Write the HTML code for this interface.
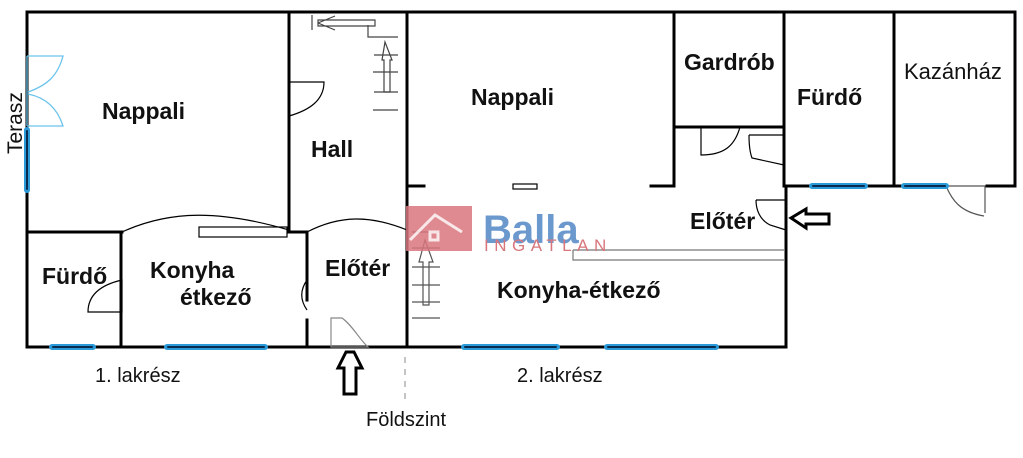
<!DOCTYPE html>
<html><head><meta charset="utf-8"><style>
html,body{margin:0;padding:0;background:#fff;width:1023px;height:458px;overflow:hidden}
svg{display:block}
.b{font-family:"Liberation Sans",sans-serif;font-weight:bold;font-size:23px;fill:#111}
.n{font-family:"Liberation Sans",sans-serif;font-size:20px;fill:#111}
</style></head><body>
<svg width="1023" height="458" viewBox="0 0 1023 458" xmlns="http://www.w3.org/2000/svg">
<g stroke="#000" stroke-width="3" fill="none" stroke-linecap="square">
<path d="M27 12 H1015 M27 12 V347 H786 M407 12 V347"/>
<path d="M1015 12 V186 M786 186 H946 M987 186 H1015 M786 186 V347"/>
<path d="M289 12 V232 M27 232 H122 M289 232 H307 M121 232 V347 M307 232 V300 M307 320 V347"/>
<path d="M674 12 V186 M674 127 H784 M784 12 V186 M894 12 V186"/>
<path d="M408 186 H424 M651 186 H674"/>
</g>
<g stroke="#000" stroke-width="1.2" fill="none">
<path d="M122 232 C170 210 220 210 289 230"/>
<rect x="199" y="227" width="88" height="10"/>
<path d="M307 232 C340 215 370 215 407 230"/>
<path d="M307 280 C300 290 300 300 307 310"/>
<rect x="513" y="184" width="24" height="5"/>
<path d="M289 82 H324 C324 100 310 110 289 116 V82"/>
<path d="M122 280 C100 285 88 295 88 312 H122 Z"/>
<path d="M331 318 H342 C352 325 360 340 368 347 H331 Z" stroke="#888"/>
<path d="M701 127 H740 C735 145 725 155 701 155 V127"/>
<path d="M749 135 H784 V165 L752 158 C749 150 749 140 749 135"/>
<path d="M756 200 H786 V230 L770 225 C760 220 756 210 756 200"/>
<path d="M946 186 H985 V213 M946 186 C952 200 960 212 984 216" stroke="#555"/>
<path d="M312 15 V30 M318 20 H375 V26 H318 Z M318 23 L335 16 M318 23 L335 30 M368 25 V37 H398 M374 55 H398 M373 72 H398 M374 92 H398 M373 110 H398" stroke="#444"/>
<path d="M385 42 L382 60 H384 V92 H390 V60 H392 Z" stroke="#444"/>
<path d="M573 250 H784 M573 250 V260 H784" stroke="#777"/>
<path d="M412 232 H440 M412 248 H440 M412 267 H440 M412 285 H440 M412 302 H440 M412 318 H440" stroke="#555"/>
<path d="M425 240 L419 262 H423 V305 H429 V262 H433 Z" stroke="#555"/>
</g>
<g stroke="#2a9bd8" stroke-width="6" stroke-linecap="round">
<path d="M27 130 V190 M52 347 H93 M167 347 H265 M464 347 H557 M607 347 H716 M812 186 H865 M904 186 H946"/>
</g>
<g stroke="#0a2a50" stroke-width="2" stroke-linecap="round">
<path d="M27 131 V189 M53 347 H92 M168 347 H264 M465 347 H556 M608 347 H715 M813 186 H864 M905 186 H945"/>
</g>
<g stroke="#6cc4ec" stroke-width="1.3" fill="none">
<path d="M27 56 V126 M27 56 H63 C58 75 48 85 28 92 M27 126 H63 C58 110 48 98 28 94"/>
</g>
<path d="M346 352 L338 368 H344 V394 H356 V368 H362 L354 352 Z" fill="#fff" stroke="#000" stroke-width="3"/>
<path d="M791 218 L806 209 V214 H829 V224 H806 V228 Z" fill="#fff" stroke="#000" stroke-width="3"/>
<path d="M405 357 V400" stroke="#888" stroke-width="1" stroke-dasharray="6 6"/>
<rect x="406" y="206" width="66" height="45" fill="#d9767c" opacity="0.85"/>
<path d="M410 240 L435 215 L462 232 M430 232 h8 v8 h-8 z" stroke="#fff" stroke-width="3" fill="none" opacity="0.8"/>
<text x="483" y="243" font-family="Liberation Sans,sans-serif" font-weight="bold" font-size="40" fill="#5b8fc9" opacity="0.9">Balla</text>
<text x="484" y="251" font-family="Liberation Sans,sans-serif" font-size="17" letter-spacing="5.5" fill="#d9767c">INGATLAN</text>
<text class="b" x="102" y="119">Nappali</text>
<text class="b" x="311" y="157">Hall</text>
<text class="b" x="42" y="284">Fürdő</text>
<text class="b" x="150" y="278">Konyha</text>
<text class="b" x="180" y="305">étkező</text>
<text class="b" x="325" y="276">Előtér</text>
<text class="b" x="471" y="105">Nappali</text>
<text class="b" x="684" y="70">Gardrób</text>
<text class="b" x="797" y="105">Fürdő</text>
<text class="n" x="904" y="79" style="font-size:22px">Kazánház</text>
<text class="b" x="690" y="229">Előtér</text>
<text class="b" x="497" y="298">Konyha-étkező</text>
<text class="n" style="font-size:21px" transform="translate(22 154) rotate(-90)">Terasz</text>
<text class="n" x="95" y="382">1. lakrész</text>
<text class="n" x="517" y="382">2. lakrész</text>
<text class="n" x="366" y="426">Földszint</text>
</svg>
</body></html>
